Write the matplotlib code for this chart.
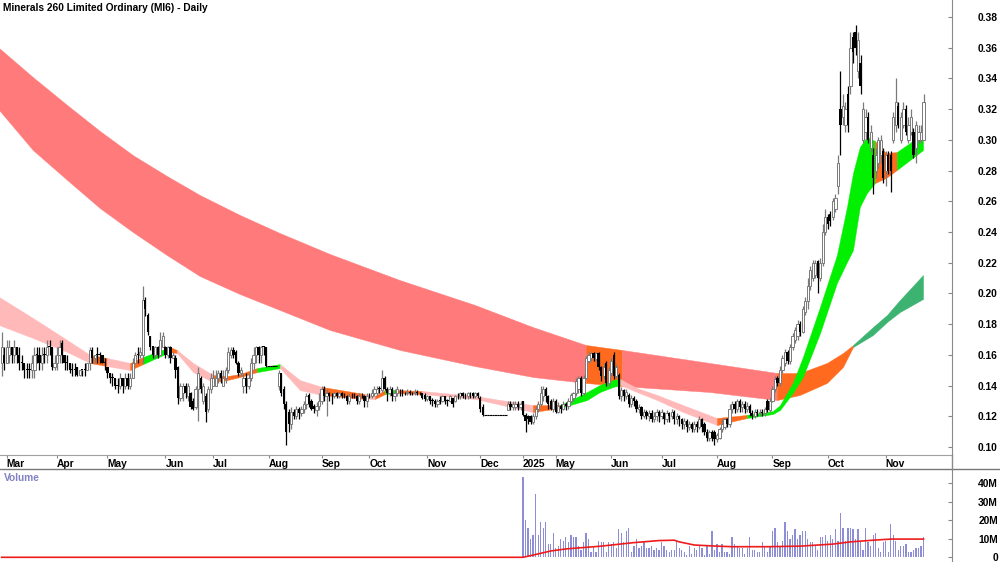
import matplotlib
matplotlib.use('Agg')
import matplotlib.pyplot as plt
from matplotlib.lines import Line2D
import numpy as np

plt.rcParams['font.family'] = ['Liberation Sans', 'DejaVu Sans']
plt.rcParams['font.weight'] = 'bold'

title = 'Minerals 260 Limited Ordinary (MI6) - Daily'

# daily bars, prices in cents (one row = 10 trading days)
opens = [
    15.5, 16.0, 15.5, 16.0, 16.5, 16.0, 16.5, 16.0, 15.5, 15.5,
    15.0, 15.0, 15.0, 15.0, 16.0, 16.0, 15.5, 16.0, 16.0, 16.5,
    16.5, 15.2, 15.5, 16.0, 16.8, 16.0, 15.5, 15.5, 15.0, 15.0,
    15.2, 14.7, 15.0, 15.0, 15.0, 15.5, 16.3, 15.8, 16.0, 16.0,
    16.0, 15.5, 15.2, 14.8, 14.5, 14.5, 14.0, 14.0, 14.5, 14.0,
    14.5, 14.0, 14.5, 15.5, 16.0, 16.0, 16.0, 19.6, 18.6, 17.2,
    16.6, 16.0, 16.5, 16.0, 16.5, 16.5, 16.0, 16.5, 15.8, 15.8,
    15.2, 13.2, 13.5, 14.0, 13.3, 13.5, 13.0, 12.6, 13.8, 14.5,
    13.0, 13.3, 12.5, 13.8, 14.0, 14.0, 14.5, 14.8, 14.0, 14.5,
    15.0, 16.0, 16.3, 16.2, 15.5, 14.8, 14.0, 14.5, 14.0, 14.5,
    15.5, 16.0, 16.5, 16.0, 16.6, 16.5, 15.3, 15.3, 15.3, 15.3,
    14.0, 14.8, 13.8, 12.8, 12.3, 11.5, 12.3, 12.0, 12.5, 12.2,
    12.5, 12.8, 13.4, 13.0, 12.7, 12.4, 12.7, 13.0, 13.8, 13.3,
    13.5, 13.3, 13.3, 13.5, 13.3, 13.5, 13.3, 13.3, 13.0, 13.3,
    13.3, 13.3, 13.0, 13.3, 13.3, 13.0, 13.3, 13.3, 13.5, 13.5,
    13.8, 13.7, 14.5, 13.8, 13.5, 13.8, 13.3, 13.5, 13.5, 13.5,
    13.5, 13.5, 13.6, 13.5, 13.5, 13.6, 13.5, 13.5, 13.4, 13.1,
    13.3, 13.0, 13.0, 12.8, 13.0, 13.0, 13.3, 13.0, 13.0, 13.2,
    13.0, 13.3, 13.3, 13.5, 13.3, 13.3, 13.5, 13.5, 13.3, 13.5,
    13.2, 12.6, 12.1, 12.1, 12.1, 12.1, 12.1, 12.1, 12.1, 12.1,
    12.1, 12.4, 12.8, 12.6, 12.6, 12.8, 12.6, 13.0, 12.1, 12.0,
    12.0, 11.6, 12.0, 12.5, 12.8, 13.3, 13.8, 13.3, 13.0, 12.5,
    13.0, 12.3, 12.7, 12.5, 12.8, 12.7, 13.0, 13.2, 13.5, 13.8,
    14.5, 13.5, 14.5, 15.6, 15.8, 16.1, 15.7, 16.1, 15.2, 14.6,
    15.5, 14.2, 14.8, 16.0, 14.6, 14.7, 13.3, 13.7, 13.3, 13.4,
    12.8, 13.2, 13.0, 12.5, 12.6, 12.0, 12.3, 12.0, 12.2, 11.8,
    12.0, 12.3, 12.0, 12.2, 11.8, 12.2, 12.0, 12.3, 11.8, 12.0,
    11.8, 11.5, 11.7, 11.3, 11.5, 11.2, 11.5, 11.3, 11.8, 11.5,
    11.0, 10.6, 11.0, 11.0, 10.5, 10.6, 11.2, 11.3, 11.8, 11.5,
    12.5, 12.8, 12.5, 13.0, 12.6, 12.8, 12.5, 12.7, 12.2, 12.0,
    12.3, 12.2, 12.3, 12.2, 13.0, 12.4, 13.0, 13.8, 14.5, 14.2,
    15.0, 15.5, 16.2, 15.6, 16.5, 17.0, 17.2, 18.0, 17.5, 18.8,
    19.5, 20.5, 21.0, 21.2, 22.1, 21.0, 22.0, 24.0, 25.0, 25.2,
    25.0, 25.5, 27.0, 32.0, 31.5, 31.0, 33.0, 33.5, 36.7, 37.0,
    34.5, 35.0, 30.0, 30.5, 31.5, 29.5, 29.0, 28.0, 28.5, 29.0,
    29.3, 28.0, 29.0, 29.0, 30.0, 31.0, 32.2, 30.0, 31.0, 32.0,
    30.0, 30.5, 30.5, 29.5, 30.0, 30.0, 30.0,
]
highs = [
    17.5, 16.5, 17.0, 17.0, 16.5, 17.0, 16.5, 16.5, 16.0, 15.5,
    15.5, 15.5, 16.0, 16.5, 16.5, 16.5, 16.5, 16.5, 17.0, 17.0,
    16.5, 16.0, 16.5, 17.0, 17.0, 16.0, 16.0, 15.5, 15.5, 15.5,
    15.2, 15.0, 15.0, 15.5, 15.5, 16.5, 16.5, 16.0, 16.5, 16.2,
    16.0, 15.8, 15.2, 14.8, 14.8, 14.5, 14.5, 14.8, 14.5, 14.8,
    14.8, 14.8, 15.8, 16.2, 16.5, 16.5, 20.5, 19.8, 18.7, 17.2,
    16.6, 16.6, 16.6, 17.5, 17.5, 16.6, 16.6, 16.6, 16.2, 16.0,
    15.3, 14.2, 14.2, 14.2, 14.2, 13.6, 13.2, 14.0, 15.2, 14.6,
    14.2, 13.5, 14.0, 14.8, 15.0, 15.0, 15.0, 15.0, 15.0, 15.2,
    16.5, 16.5, 16.5, 16.3, 15.6, 15.2, 14.8, 14.8, 14.8, 15.8,
    16.5, 16.6, 16.6, 16.6, 16.6, 16.5, 15.3, 15.3, 15.3, 15.3,
    15.0, 14.8, 14.0, 13.0, 12.5, 12.6, 12.5, 12.7, 12.6, 12.7,
    13.0, 13.5, 13.5, 13.1, 12.8, 12.9, 13.5, 14.0, 14.0, 13.8,
    13.6, 13.5, 13.6, 13.6, 13.6, 13.6, 13.5, 13.4, 13.5, 13.5,
    13.5, 13.4, 13.5, 13.5, 13.4, 13.5, 13.5, 13.8, 14.0, 14.0,
    14.0, 15.0, 14.6, 13.9, 14.0, 13.9, 13.8, 14.0, 13.8, 13.8,
    13.6, 13.8, 13.7, 13.6, 13.8, 13.7, 13.6, 13.5, 13.5, 13.4,
    13.3, 13.2, 13.1, 13.1, 13.3, 13.4, 13.3, 13.1, 13.4, 13.2,
    13.4, 13.5, 13.6, 13.6, 13.5, 13.6, 13.6, 13.6, 13.6, 13.6,
    13.3, 12.8, 12.1, 12.1, 12.1, 12.1, 12.1, 12.1, 12.1, 12.1,
    12.1, 13.0, 13.0, 13.0, 13.0, 13.0, 13.0, 13.0, 12.2, 12.1,
    12.1, 12.2, 12.7, 13.0, 14.0, 14.0, 13.9, 13.4, 13.1, 13.2,
    13.1, 12.9, 12.8, 13.0, 12.9, 13.2, 13.5, 13.6, 14.5, 14.6,
    14.6, 14.7, 15.9, 16.2, 16.2, 16.2, 16.2, 16.2, 15.3, 15.5,
    15.6, 15.2, 15.8, 16.2, 15.4, 14.8, 13.9, 13.8, 13.8, 13.5,
    13.4, 13.3, 13.1, 12.8, 12.7, 12.5, 12.4, 12.4, 12.4, 12.3,
    12.5, 12.4, 12.5, 12.3, 12.4, 12.3, 12.5, 12.4, 12.2, 12.1,
    11.9, 11.9, 11.8, 11.7, 11.6, 11.7, 11.7, 12.0, 11.9, 11.6,
    11.2, 11.1, 11.1, 11.1, 10.9, 11.3, 11.8, 11.9, 11.9, 12.8,
    13.0, 13.0, 13.1, 13.1, 13.0, 13.0, 12.9, 12.8, 12.4, 12.5,
    12.5, 12.5, 12.5, 12.6, 13.1, 13.2, 14.0, 14.6, 14.6, 15.3,
    16.0, 16.4, 16.3, 16.7, 17.4, 17.8, 18.3, 18.2, 19.2, 19.8,
    21.0, 21.8, 22.2, 22.2, 22.2, 22.3, 24.5, 25.5, 25.2, 25.4,
    26.2, 26.5, 29.0, 34.5, 33.0, 32.5, 33.5, 37.0, 37.0, 37.5,
    37.0, 35.5, 32.5, 32.0, 31.8, 31.0, 29.5, 29.5, 30.2, 30.3,
    29.5, 29.3, 29.3, 29.3, 31.8, 34.0, 32.5, 31.8, 32.5, 32.3,
    31.5, 32.0, 30.8, 31.2, 31.0, 31.0, 33.0,
]
lows = [
    14.6, 15.0, 15.5, 15.5, 15.5, 15.5, 15.5, 15.0, 15.0, 14.5,
    14.5, 14.5, 14.5, 14.5, 15.5, 15.0, 15.0, 15.5, 15.5, 16.0,
    15.0, 15.0, 15.0, 15.5, 15.5, 15.0, 15.0, 14.8, 14.6, 14.6,
    14.6, 14.6, 14.6, 14.6, 15.0, 15.0, 15.5, 15.5, 15.5, 15.5,
    15.5, 15.0, 14.5, 14.2, 14.0, 13.8, 13.5, 13.8, 13.5, 13.8,
    13.8, 13.8, 14.5, 15.5, 15.5, 15.8, 15.5, 18.5, 17.3, 16.3,
    15.8, 15.8, 15.8, 16.0, 16.5, 15.8, 15.8, 15.5, 15.8, 14.5,
    12.8, 13.0, 13.0, 13.2, 13.0, 12.5, 12.4, 12.5, 11.7, 13.5,
    12.8, 11.6, 12.3, 13.5, 14.0, 14.0, 14.2, 14.2, 14.0, 14.2,
    14.8, 15.8, 15.8, 15.4, 14.6, 14.6, 13.5, 13.5, 13.8, 14.3,
    15.0, 15.5, 15.5, 15.5, 16.0, 15.2, 15.3, 15.3, 15.3, 15.3,
    13.7, 13.3, 12.5, 10.1, 11.0, 11.2, 11.8, 11.8, 11.8, 12.0,
    12.2, 12.5, 12.6, 12.4, 12.2, 12.0, 12.4, 12.8, 13.0, 12.0,
    13.0, 12.8, 13.2, 13.2, 13.2, 13.2, 13.2, 12.8, 12.8, 13.2,
    13.2, 12.8, 12.8, 13.2, 12.6, 12.6, 13.2, 13.2, 13.3, 13.3,
    13.5, 13.6, 13.7, 13.0, 13.3, 13.0, 13.0, 13.3, 13.3, 13.3,
    13.4, 13.4, 13.4, 13.4, 13.4, 13.4, 13.4, 13.1, 13.0, 13.0,
    12.8, 12.7, 12.6, 12.6, 12.8, 12.9, 12.8, 12.7, 12.9, 12.6,
    12.9, 13.1, 13.1, 13.2, 13.1, 13.1, 13.2, 13.2, 13.2, 13.2,
    12.3, 12.0, 12.1, 12.1, 12.1, 12.1, 12.1, 12.1, 12.1, 12.1,
    12.1, 12.4, 12.4, 12.4, 12.4, 12.4, 12.4, 12.0, 11.0, 11.5,
    11.5, 11.5, 11.8, 12.3, 12.7, 13.0, 12.9, 12.5, 12.4, 12.3,
    12.2, 12.2, 12.2, 12.4, 12.4, 12.5, 12.9, 13.0, 13.3, 13.5,
    13.3, 13.4, 14.4, 15.5, 15.6, 15.6, 15.6, 15.0, 14.3, 14.4,
    14.0, 14.0, 14.6, 14.4, 14.5, 13.1, 13.0, 13.0, 13.1, 12.6,
    12.6, 12.7, 12.3, 12.2, 11.8, 11.9, 11.8, 11.7, 11.6, 11.6,
    11.7, 11.6, 11.8, 11.5, 11.6, 11.6, 11.8, 11.5, 11.5, 11.4,
    11.2, 11.2, 11.0, 11.1, 11.0, 11.0, 11.0, 11.2, 11.0, 10.8,
    10.4, 10.4, 10.4, 10.15, 10.3, 10.5, 11.0, 11.2, 11.3, 11.3,
    12.2, 12.2, 12.3, 12.3, 12.3, 12.2, 12.3, 12.0, 11.8, 11.9,
    12.0, 12.0, 12.0, 12.0, 12.3, 12.3, 12.9, 13.6, 14.0, 14.0,
    14.8, 15.3, 15.4, 15.4, 16.3, 16.8, 17.0, 17.2, 17.4, 18.6,
    19.0, 20.2, 20.8, 21.0, 20.0, 20.8, 21.8, 23.8, 24.2, 24.4,
    24.8, 25.3, 26.5, 29.0, 31.0, 30.5, 30.5, 33.0, 35.0, 35.5,
    34.0, 33.0, 29.8, 30.0, 29.8, 29.2, 26.5, 27.5, 28.2, 28.5,
    27.2, 27.0, 27.8, 26.6, 29.8, 30.5, 30.8, 29.8, 30.8, 30.3,
    29.8, 30.3, 28.8, 28.5, 29.8, 29.8, 30.0,
]
closes = [
    16.5, 15.5, 16.5, 16.5, 16.0, 16.5, 16.0, 15.5, 15.5, 15.0,
    15.0, 15.0, 15.5, 16.0, 16.0, 15.5, 16.0, 16.0, 16.5, 16.5,
    15.2, 15.5, 16.0, 16.5, 16.0, 15.5, 15.5, 15.0, 15.0, 15.0,
    14.7, 15.0, 15.0, 15.0, 15.5, 16.3, 15.8, 16.0, 16.0, 16.0,
    15.5, 15.5, 14.8, 14.5, 14.5, 14.0, 14.0, 14.5, 14.0, 14.5,
    14.0, 14.5, 15.5, 16.0, 16.0, 16.2, 19.6, 19.0, 17.5, 16.5,
    16.0, 16.5, 16.0, 17.0, 17.2, 16.0, 16.5, 15.8, 16.0, 15.0,
    13.2, 14.0, 14.0, 13.5, 14.0, 12.6, 12.5, 13.8, 14.8, 13.8,
    14.0, 12.3, 13.8, 14.5, 14.5, 14.5, 14.8, 14.5, 14.5, 15.0,
    16.2, 16.3, 16.0, 15.5, 14.8, 15.0, 14.5, 14.0, 14.5, 15.5,
    16.0, 16.5, 16.0, 16.5, 16.5, 15.3, 15.3, 15.3, 15.3, 15.3,
    14.8, 13.5, 12.8, 11.0, 11.5, 12.3, 12.0, 12.5, 12.2, 12.5,
    12.8, 13.3, 12.8, 12.5, 12.5, 12.7, 13.0, 13.8, 13.3, 13.5,
    13.3, 13.3, 13.5, 13.3, 13.5, 13.3, 13.3, 13.0, 13.3, 13.3,
    13.3, 13.0, 13.3, 13.3, 13.0, 13.3, 13.3, 13.5, 13.8, 13.8,
    13.8, 14.5, 13.8, 13.5, 13.8, 13.3, 13.5, 13.8, 13.5, 13.5,
    13.5, 13.6, 13.5, 13.5, 13.6, 13.5, 13.5, 13.2, 13.1, 13.3,
    13.0, 13.0, 12.8, 13.0, 13.0, 13.3, 13.0, 13.0, 13.3, 12.8,
    13.3, 13.3, 13.5, 13.3, 13.3, 13.5, 13.5, 13.3, 13.5, 13.3,
    12.5, 12.1, 12.1, 12.1, 12.1, 12.1, 12.1, 12.1, 12.1, 12.1,
    12.1, 12.8, 12.6, 12.8, 12.8, 12.6, 12.8, 12.1, 11.7, 11.8,
    11.6, 12.0, 12.5, 12.8, 13.5, 13.8, 13.3, 12.8, 12.5, 13.0,
    12.3, 12.7, 12.5, 12.8, 12.7, 13.0, 13.4, 13.5, 14.3, 14.5,
    13.5, 14.5, 15.8, 16.0, 16.1, 15.8, 16.1, 15.2, 14.6, 15.2,
    14.2, 15.0, 15.6, 14.6, 15.2, 13.3, 13.7, 13.3, 13.6, 12.8,
    13.2, 13.0, 12.5, 12.6, 12.0, 12.3, 12.0, 12.2, 11.8, 12.0,
    12.3, 12.0, 12.3, 11.8, 12.2, 12.0, 12.3, 11.8, 12.0, 11.8,
    11.5, 11.7, 11.3, 11.5, 11.2, 11.5, 11.3, 11.8, 11.3, 11.0,
    10.6, 11.0, 10.6, 10.5, 10.8, 11.2, 11.5, 11.8, 11.5, 12.5,
    12.8, 12.5, 13.0, 12.6, 12.8, 12.5, 12.7, 12.2, 12.0, 12.3,
    12.2, 12.3, 12.2, 12.5, 12.4, 13.0, 13.8, 14.4, 14.2, 15.0,
    15.8, 16.2, 15.6, 16.5, 17.2, 17.6, 18.0, 17.5, 19.0, 19.5,
    20.5, 21.5, 22.0, 22.0, 21.0, 22.0, 24.0, 25.0, 24.5, 24.7,
    26.0, 26.2, 28.5, 31.0, 32.2, 32.0, 31.0, 36.0, 35.7, 36.0,
    36.5, 33.5, 32.0, 31.5, 30.0, 30.5, 27.5, 29.0, 30.0, 30.0,
    27.5, 29.0, 28.0, 28.0, 31.5, 32.5, 31.0, 31.5, 32.0, 30.5,
    31.0, 31.5, 29.0, 31.0, 30.5, 30.5, 32.5,
]

# volume in millions, trading resumed in 2025 (bar 207 onward)
vol_start = 207
volume = [
    43, 20, 16, 10, 12, 34, 12, 19, 16, 19,
    7, 7, 13, 5, 6, 10, 9, 11, 8, 12,
    11, 11, 6, 4, 8, 13, 10, 3, 6, 3,
    9, 8, 8, 3, 8, 7, 8, 5, 15, 13,
    8, 14, 16, 3, 6, 10, 5, 6, 9, 5,
    5, 6, 4, 5, 4, 8, 6, 4, 3, 4,
    4, 9, 5, 4, 3, 1, 6, 2, 5, 4,
    6, 5, 1, 6, 2, 14, 4, 7, 3, 7,
    3, 3, 2, 11, 7, 6, 5, 5, 2, 5,
    11, 4, 4, 3, 3, 8, 6, 3, 6, 14,
    16, 8, 6, 9, 19, 14, 10, 12, 15, 10,
    12, 14, 14, 10, 8, 8, 6, 4, 11, 11,
    12, 9, 12, 10, 15, 9, 24, 16, 9, 16,
    16, 15, 10, 15, 8, 4, 16, 8, 6, 12,
    13, 5, 3, 8, 9, 3, 18, 12, 9, 4,
    6, 6, 7, 3, 3, 4, 5, 5, 6, 11,
]
vol_ma_idx = [0, 207, 211, 218, 224, 238, 251, 261, 267, 269, 275, 284, 290, 304, 317, 330, 337, 346, 353, 366]
vol_ma = [0, 0, 1.2, 3.4, 4.5, 6.0, 7.9, 9.0, 9.2, 8.3, 6.6, 6.0, 5.7, 5.7, 6.0, 7.1, 8.3, 9.2, 9.8, 9.8]

# short-term ribbon
short_idx = [-1, 12.4, 26, 35.1, 41.8, 51, 56.1, 66.8, 69.6, 76, 83.9, 89.5, 94.6, 101.4, 110.5,
             118.4, 127.2, 144.2, 148.2, 152.2, 156.2, 166.9, 187.9, 210.9, 221.7, 224.4, 232.4,
             237.5, 242.7, 245.5, 252.2, 260.2, 270.5, 284, 295.9, 306.2, 309, 314.1, 318.1,
             324.9, 331.6, 335.6, 338, 340.7, 343.5, 346.7, 351.1, 355.4, 360.6, 365.8]
short_top = [0.1977, 0.1840, 0.1697, 0.1599, 0.1580, 0.1547, 0.1586, 0.1651, 0.1632, 0.1547,
             0.1469, 0.1462, 0.1475, 0.1514, 0.1540, 0.1436, 0.1391, 0.1345, 0.1332, 0.1371,
             0.1371, 0.1365, 0.1332, 0.1273, 0.1273, 0.1293, 0.1358, 0.1404, 0.1436, 0.1443,
             0.1384, 0.1339, 0.1273, 0.1189, 0.1209, 0.1234, 0.1273, 0.1417, 0.1586, 0.1912,
             0.2250, 0.2563, 0.2784, 0.2953, 0.3019, 0.2993, 0.2914, 0.2921, 0.2980, 0.3064]
short_bot = [0.1794, 0.1710, 0.1619, 0.1547, 0.1527, 0.1501, 0.1540, 0.1619, 0.1612, 0.1488,
             0.1423, 0.1436, 0.1456, 0.1488, 0.1514, 0.1371, 0.1339, 0.1313, 0.1313, 0.1345,
             0.1352, 0.1345, 0.1313, 0.1228, 0.1254, 0.1267, 0.1306, 0.1358, 0.1391, 0.1404,
             0.1358, 0.1306, 0.1228, 0.1143, 0.1189, 0.1215, 0.1241, 0.1352, 0.1456, 0.1742,
             0.2068, 0.2205, 0.2283, 0.2563, 0.2654, 0.2719, 0.2752, 0.2804, 0.2869, 0.2934]
short_state = ['P', 'P', 'P', 'O', 'P', 'O', 'G', 'O', 'P', 'P', 'O', 'O', 'O', 'G', 'P', 'P',
               'O', 'P', 'O', 'G', 'O', 'P', 'P', 'O', 'G', 'G', 'G', 'G', 'G', 'P', 'P', 'P',
               'P', 'O', 'G', 'G', 'G', 'G', 'G', 'G', 'G', 'G', 'G', 'G', 'G', 'O', 'O', 'G', 'G']

# long-term ribbon
long_idx = [-1, 12.4, 26, 39, 52.1, 65.6, 78.7, 94.6, 110.5, 130.3, 158.1, 187.9, 210.9, 232,
            246.3, 281.2, 307.8, 316.9, 327.6, 334, 338, 345.9, 351.5, 356.6, 365.8]
long_top = [0.3598, 0.3409, 0.3227, 0.3058, 0.2901, 0.2765, 0.2641, 0.2511, 0.2393, 0.2257,
            0.2087, 0.1925, 0.1781, 0.1664, 0.1632, 0.1547, 0.1482, 0.1482, 0.1547, 0.1612,
            0.1664, 0.1781, 0.1860, 0.1957, 0.2120]
long_bot = [0.3194, 0.2934, 0.2739, 0.2556, 0.2400, 0.2250, 0.2113, 0.1996, 0.1892, 0.1762,
            0.1632, 0.1527, 0.1456, 0.1417, 0.1397, 0.1358, 0.1306, 0.1339, 0.1417, 0.1521,
            0.1651, 0.1729, 0.1814, 0.1879, 0.1964]
long_state = ['R', 'R', 'R', 'R', 'R', 'R', 'R', 'R', 'R', 'R', 'R', 'R', 'R', 'O', 'R', 'R',
              'O', 'O', 'O', 'O', 'S', 'S', 'S', 'S']

tick_idx = [2, 22, 42, 65, 84, 106, 127, 146, 169, 190, 207, 220, 242, 262, 284, 306, 328, 351]
tick_labels = ['Mar', 'Apr', 'May', 'Jun', 'Jul', 'Aug', 'Sep', 'Oct', 'Nov', 'Dec',
               '2025', 'May', 'Jun', 'Jul', 'Aug', 'Sep', 'Oct', 'Nov']
price_ticks = [0.10, 0.12, 0.14, 0.16, 0.18, 0.20, 0.22, 0.24, 0.26, 0.28, 0.30, 0.32, 0.34, 0.36, 0.38]
vol_ticks = [0, 10, 20, 30, 40]
vol_tick_labels = ['0', '10M', '20M', '30M', '40M']

colours = {'P': '#ffb9b9', 'O': '#ff6a1f', 'G': '#00f000', 'R': '#ff7b7b', 'S': '#3cb371'}


def draw_band(ax, idx, top, bot, state):
    k = 0
    while k < len(state):
        j = k
        while j + 1 < len(state) and state[j + 1] == state[k]:
            j += 1
        c = colours[state[k]]
        ax.fill_between(idx[k:j + 2], bot[k:j + 2], top[k:j + 2],
                        facecolor=c, edgecolor=c, lw=0.3, zorder=1)
        k = j + 1


fig = plt.figure(figsize=(10, 5.62), dpi=100)
ax = fig.add_axes([0, 1 - 455 / 562, 0.952, 455 / 562])
axv = fig.add_axes([0, 0, 0.952, 93 / 562])

draw_band(ax, long_idx, long_top, long_bot, long_state)
draw_band(ax, short_idx, short_top, short_bot, short_state)

o = np.array(opens) / 100
h = np.array(highs) / 100
l = np.array(lows) / 100
c = np.array(closes) / 100
x = np.arange(len(c))
up = c > o
flat = h == l
dn = ~up & ~flat
ax.vlines(x[up], l[up], h[up], color='#7a7a7a', lw=0.9, zorder=3)
ax.vlines(x[dn], l[dn], h[dn], color='black', lw=0.9, zorder=3)
body = np.maximum(np.abs(c - o), 0.0005)
base = np.minimum(o, c)
ax.bar(x[up], body[up], bottom=base[up], width=0.9, facecolor='white',
       edgecolor='#7a7a7a', lw=0.7, zorder=4)
ax.bar(x[dn], body[dn], bottom=base[dn], width=0.9, color='black', lw=0, zorder=4)
ax.hlines(c[flat], x[flat] - 0.5, x[flat] + 0.5, color='black', lw=0.8, zorder=4)

ax.set_xlim(-0.66, 377.3)
ax.set_ylim(0.0948, 0.3911)
ax.yaxis.tick_right()
ax.set_yticks(price_ticks)
ax.set_yticklabels(['%.2f' % v for v in price_ticks])
ax.tick_params(axis='y', direction='in', length=3, color='#888888', pad=33, labelsize=7.4)
for lab in ax.get_yticklabels():
    lab.set_horizontalalignment('right')
ax.set_xticks(tick_idx)
ax.set_xticklabels(tick_labels)
ax.tick_params(axis='x', direction='out', length=2, color='#888888', pad=1, labelsize=7.4)
for lab in ax.get_xticklabels():
    lab.set_horizontalalignment('left')
for s in ['left', 'top']:
    ax.spines[s].set_visible(False)
ax.spines['bottom'].set_color('#a0a0a0')
ax.spines['right'].set_color('#8a8a8a')

# volume panel
vx = np.arange(vol_start, vol_start + len(volume))
axv.bar(vx, volume, width=0.5, color='#8e8ed6', lw=0, zorder=2)
axv.plot(vol_ma_idx, vol_ma, color='#ee1c1c', lw=1.2, zorder=3)
axv.set_xlim(-0.66, 377.3)
axv.set_ylim(-2.53, 47.5)
axv.set_xticks([])
axv.yaxis.tick_right()
axv.set_yticks(vol_ticks)
axv.set_yticklabels(vol_tick_labels)
axv.tick_params(axis='y', direction='in', length=3, color='#888888', pad=33, labelsize=7.4)
for lab in axv.get_yticklabels():
    lab.set_horizontalalignment('right')
for s in ['left', 'top', 'bottom']:
    axv.spines[s].set_visible(False)
axv.spines['right'].set_color('#8a8a8a')

fig.add_artist(Line2D([0, 1], [1 - 469 / 562] * 2, color='#777777', lw=1))
fig.add_artist(Line2D([0.952, 0.952], [1 - 469 / 562, 1 - 455 / 562], color='#8a8a8a', lw=1))

fig.text(0.003, 1 - 8 / 562, title, fontsize=7.3, va='center', ha='left')
fig.text(0.004, 1 - 478 / 562, 'Volume', fontsize=7.3, va='center', ha='left', color='#8282c4')

fig.savefig('out.png', dpi=100)
